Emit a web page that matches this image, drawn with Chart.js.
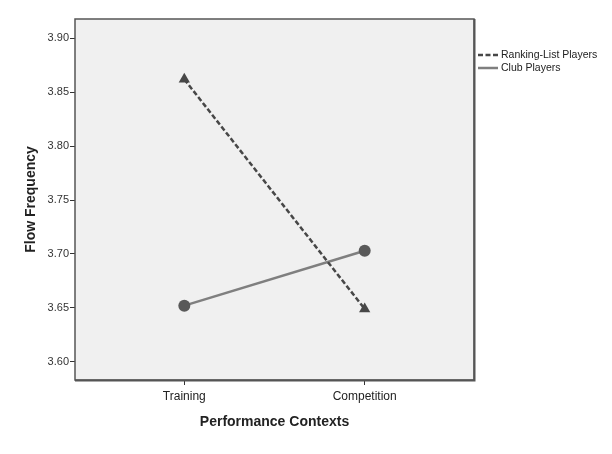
<!DOCTYPE html>
<html lang="en">
<head>
    <meta charset="UTF-8">
    <title>Flow Frequency by Performance Context</title>
    <script src="https://cdn.jsdelivr.net/npm/chart.js"></script>
    <style>
        * { margin: 0; padding: 0; box-sizing: border-box; }
        body { background: #ffffff; }
        .chart-container { position: relative; width: 612px; height: 454px; }
    </style>
</head>
<body>
    <div class="chart-container">
        <canvas id="flowChart"></canvas>
    </div>

    <script>
        // data
        const contexts = ['Training', 'Competition'];
        const contextPos = [1, 2];
        const rankingPlayers = [3.862, 3.649];
        const clubPlayers = [3.652, 3.703];
        const yTicks = [3.60, 3.65, 3.70, 3.75, 3.80, 3.85, 3.90];
        const seriesLabels = ['Ranking-List Players', 'Club Players'];

        const fontFamily = '"Liberation Sans", Arial, sans-serif';

        // grey plot background + frame
        const plotFrame = {
            id: 'plotFrame',
            beforeDraw(chart) {
                const { ctx, chartArea: a } = chart;
                ctx.save();
                ctx.fillStyle = '#f0f0f0';
                ctx.fillRect(a.left, a.top, a.right - a.left, a.bottom - a.top);
                ctx.restore();
            },
            afterDatasetsDraw(chart) {
                const { ctx, chartArea: a } = chart;
                ctx.save();
                ctx.strokeStyle = '#555555';
                ctx.lineWidth = 1.5;
                ctx.strokeRect(a.left, a.top, a.right - a.left, a.bottom - a.top);
                // slightly heavier bottom/right edge like the original
                ctx.lineWidth = 2;
                ctx.beginPath();
                ctx.moveTo(a.left, a.bottom + 0.5);
                ctx.lineTo(a.right + 0.5, a.bottom + 0.5);
                ctx.lineTo(a.right + 0.5, a.top);
                ctx.stroke();
                ctx.restore();
            }
        };

        // legend outside the plot, top right
        const sideLegend = {
            id: 'sideLegend',
            afterDraw(chart) {
                const { ctx, chartArea: a } = chart;
                ctx.save();
                ctx.font = '10.5px ' + fontFamily;
                ctx.textBaseline = 'middle';
                chart.data.datasets.forEach((ds, i) => {
                    const y = 55 + i * 13;
                    const x0 = a.right + 4;
                    ctx.strokeStyle = ds.borderColor;
                    ctx.lineWidth = 2.5;
                    ctx.setLineDash(ds.borderDash || []);
                    ctx.beginPath();
                    ctx.moveTo(x0, y);
                    ctx.lineTo(x0 + 20, y);
                    ctx.stroke();
                    ctx.setLineDash([]);
                    ctx.fillStyle = '#222222';
                    ctx.fillText(ds.label, x0 + 23, y + 0.5);
                });
                ctx.restore();
            }
        };

        const toPoints = vals => vals.map((v, i) => ({ x: contextPos[i], y: v }));

        new Chart(document.getElementById('flowChart'), {
            type: 'line',
            data: {
                datasets: [
                    {
                        label: seriesLabels[0],
                        data: toPoints(rankingPlayers),
                        borderColor: '#474747',
                        borderWidth: 2.5,
                        borderDash: [5, 2.5],
                        pointStyle: 'triangle',
                        pointRadius: 6.5,
                        pointBackgroundColor: '#474747',
                        pointBorderColor: '#474747',
                        pointBorderWidth: 0
                    },
                    {
                        label: seriesLabels[1],
                        data: toPoints(clubPlayers),
                        borderColor: '#7f7f7f',
                        borderWidth: 2.5,
                        pointStyle: 'circle',
                        pointRadius: 6,
                        pointBackgroundColor: '#595959',
                        pointBorderColor: '#595959',
                        pointBorderWidth: 0
                    }
                ]
            },
            options: {
                responsive: true,
                maintainAspectRatio: false,
                animation: false,
                layout: { padding: { top: 19, right: 138, left: 0, bottom: 0 } },
                plugins: {
                    legend: { display: false },
                    tooltip: { enabled: false }
                },
                scales: {
                    x: {
                        type: 'linear',
                        min: 0.394,
                        max: 2.606,
                        afterFit(scale) { scale.height = 74; },
                        afterBuildTicks(scale) {
                            scale.ticks = contextPos.map(v => ({ value: v }));
                        },
                        ticks: {
                            color: '#222222',
                            font: { family: fontFamily, size: 12 },
                            padding: 4,
                            maxRotation: 0,
                            callback: v => contexts[contextPos.indexOf(v)] || ''
                        },
                        grid: {
                            drawOnChartArea: false,
                            drawTicks: true,
                            tickLength: 5,
                            color: '#333333'
                        },
                        border: { display: false },
                        title: {
                            display: true,
                            text: 'Performance Contexts',
                            color: '#222222',
                            font: { family: fontFamily, size: 14, weight: 'bold' },
                            padding: { top: 0, bottom: 23.6 }
                        }
                    },
                    y: {
                        min: 3.583,
                        max: 3.918,
                        afterFit(scale) { scale.width = 75; },
                        afterBuildTicks(scale) {
                            scale.ticks = yTicks.map(v => ({ value: v }));
                        },
                        ticks: {
                            color: '#333333',
                            font: { family: fontFamily, size: 11 },
                            padding: 1,
                            callback: v => v.toFixed(2)
                        },
                        grid: {
                            drawOnChartArea: false,
                            drawTicks: true,
                            tickLength: 5,
                            color: '#333333'
                        },
                        border: { display: false },
                        title: {
                            display: true,
                            text: 'Flow Frequency',
                            color: '#222222',
                            font: { family: fontFamily, size: 14, weight: 'bold' },
                            padding: { top: 22.6, bottom: 0 }
                        }
                    }
                }
            },
            plugins: [plotFrame, sideLegend]
        });
    </script>
</body>
</html>
